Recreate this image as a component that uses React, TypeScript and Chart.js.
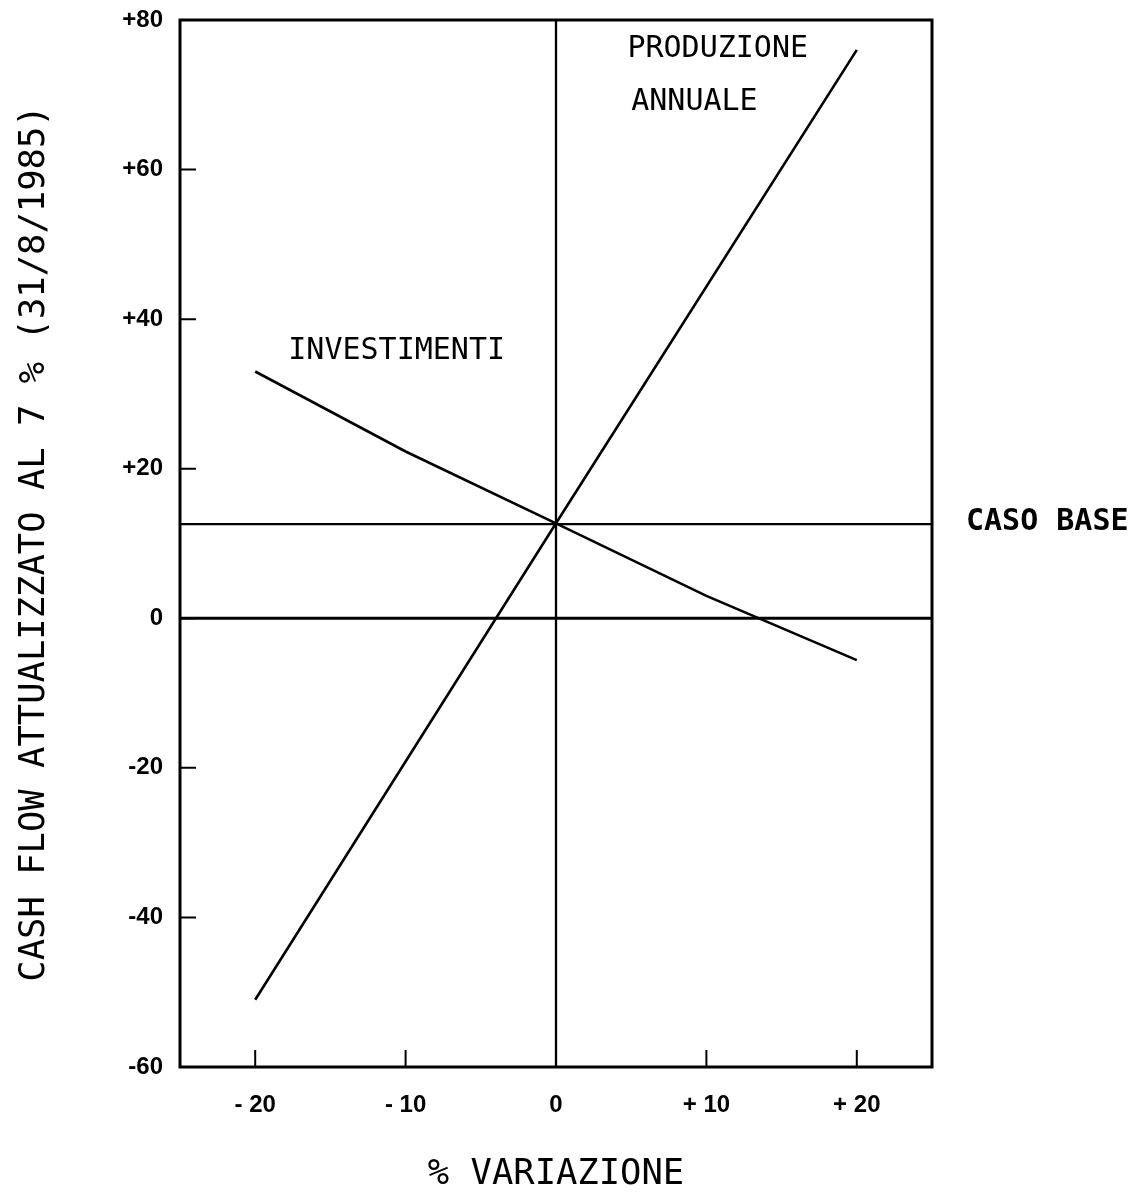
import React, { useEffect, useRef } from "react";
import { Chart, registerables } from "chart.js";

Chart.register(...registerables);

// ---- data ----
const xTickValues = [-20, -10, 0, 10, 20];
const xTickLabels = ["- 20", "- 10", "0", "+ 10", "+ 20"];
const yTickValues = [-60, -40, -20, 0, 20, 40, 60, 80];
const yTickLabels = ["-60", "-40", "-20", "0", "+20", "+40", "+60", "+80"];

const investimentiX = [-20, -10, 0, 10, 20];
const investimentiY = [33, 22.3, 12.7, 3, -5.6];
const produzioneX = [-20, 0, 20];
const produzioneY = [-51, 12.7, 76];
const casoBase = 12.6;
const xRange = [-25, 25];
const yRange = [-60, 80];

const xTitle = "% VARIAZIONE";
const yTitle = "CASH FLOW ATTUALIZZATO AL 7 % (31/8/1985)";
const casoBaseLabel = "CASO BASE";
const curveLabels = ["INVESTIMENTI", "PRODUZIONE", "ANNUALE"];

// label anchors (in data units), kept apart from the data
const curveLabelAnchors = [
  { x: -17.8, y: 34.7 },
  { x: 4.75, y: 75.05 },
  { x: 5.0, y: 67.97 },
];

export default function App() {
  const ref = useRef<HTMLCanvasElement>(null);

  useEffect(() => {
    const canvas = ref.current;
    if (!canvas) return;

    const framePlugin = {
      id: "framePlugin",
      afterDraw(chart: any) {
        const { ctx, chartArea: a, scales } = chart;
        const xs = scales.x;
        const ys = scales.y;
        ctx.save();
        ctx.strokeStyle = "#000";
        ctx.lineWidth = 2;
        ctx.beginPath();
        yTickValues.forEach((v) => {
          const p = ys.getPixelForValue(v);
          ctx.moveTo(a.left, p);
          ctx.lineTo(a.left + 16, p);
        });
        xTickValues.forEach((v) => {
          const p = xs.getPixelForValue(v);
          ctx.moveTo(p, a.bottom);
          ctx.lineTo(p, a.bottom - 17);
        });
        ctx.stroke();
        ctx.lineWidth = 3;
        ctx.strokeRect(a.left, a.top, a.right - a.left, a.bottom - a.top);

        ctx.fillStyle = "#000";
        ctx.font = '30px "DejaVu Sans Mono"';
        ctx.textAlign = "left";
        ctx.textBaseline = "alphabetic";
        curveLabels.forEach((t, i) => {
          const an = curveLabelAnchors[i];
          ctx.fillText(t, xs.getPixelForValue(an.x), ys.getPixelForValue(an.y));
        });
        ctx.font = 'bold 30px "DejaVu Sans Mono"';
        ctx.textBaseline = "middle";
        ctx.fillText(casoBaseLabel, a.right + 34, ys.getPixelForValue(casoBase) - 2);
        ctx.restore();
      },
    };

    const black = "#000";
    const tickFont = { family: "'Liberation Sans'", size: 24, weight: "bold" as const };
    const titleFont = { family: "'DejaVu Sans Mono'", size: 35.5, weight: "normal" as const };

    const chart = new Chart(canvas, {
      type: "line",
      data: {
        datasets: [
          {
            label: "Investimenti",
            data: investimentiX.map((x, i) => ({ x, y: investimentiY[i] })),
            borderColor: black,
            borderWidth: 2.6,
            pointRadius: 0,
            tension: 0,
          },
          {
            label: "Produzione annuale",
            data: produzioneX.map((x, i) => ({ x, y: produzioneY[i] })),
            borderColor: black,
            borderWidth: 2.6,
            pointRadius: 0,
            tension: 0,
          },
          {
            label: "Caso base",
            data: xRange.map((x) => ({ x, y: casoBase })),
            borderColor: black,
            borderWidth: 2.3,
            pointRadius: 0,
          },
          {
            label: "Zero",
            data: xRange.map((x) => ({ x, y: 0 })),
            borderColor: black,
            borderWidth: 3,
            pointRadius: 0,
          },
          {
            label: "Asse 0",
            data: yRange.map((y) => ({ x: 0, y })),
            borderColor: black,
            borderWidth: 2.3,
            pointRadius: 0,
          },
        ],
      },
      options: {
        animation: false,
        responsive: false,
        devicePixelRatio: 1,
        events: [],
        layout: { padding: { left: 0, top: 20, right: 207, bottom: 0 } },
        plugins: {
          legend: { display: false },
          tooltip: { enabled: false },
        },
        scales: {
          x: {
            type: "linear",
            min: xRange[0],
            max: xRange[1],
            grid: { display: false, drawTicks: false },
            border: { display: false },
            afterBuildTicks: (s: any) => {
              s.ticks = xTickValues.map((v) => ({ value: v }));
            },
            afterFit: (s: any) => {
              s.height = 129;
              s.paddingLeft = 0;
              s.paddingRight = 0;
            },
            ticks: {
              color: black,
              font: tickFont,
              padding: 24,
              maxRotation: 0,
              autoSkip: false,
              callback: (v: any) => xTickLabels[xTickValues.indexOf(Number(v))],
            },
            title: {
              display: true,
              text: xTitle,
              color: black,
              font: titleFont,
              padding: { top: 0, bottom: 0 },
            },
          },
          y: {
            type: "linear",
            min: yRange[0],
            max: yRange[1],
            grid: { display: false, drawTicks: false },
            border: { display: false },
            afterBuildTicks: (s: any) => {
              s.ticks = yTickValues.map((v) => ({ value: v }));
            },
            afterFit: (s: any) => {
              s.width = 180;
              s.paddingTop = 0;
              s.paddingBottom = 0;
            },
            ticks: {
              color: black,
              font: tickFont,
              padding: 17,
              autoSkip: false,
              callback: (v: any) => yTickLabels[yTickValues.indexOf(Number(v))],
            },
            title: {
              display: true,
              text: yTitle,
              color: black,
              font: titleFont,
              padding: { top: 13, bottom: 0 },
            },
          },
        },
      },
      plugins: [framePlugin],
    });

    return () => chart.destroy();
  }, []);

  return (
    <div
      style={{
        position: "absolute",
        left: 0,
        top: 0,
        width: 1139,
        height: 1196,
        background: "#fff",
      }}
    >
      <canvas
        ref={ref}
        width={1139}
        height={1196}
        style={{ width: 1139, height: 1196, display: "block" }}
      />
    </div>
  );
}
